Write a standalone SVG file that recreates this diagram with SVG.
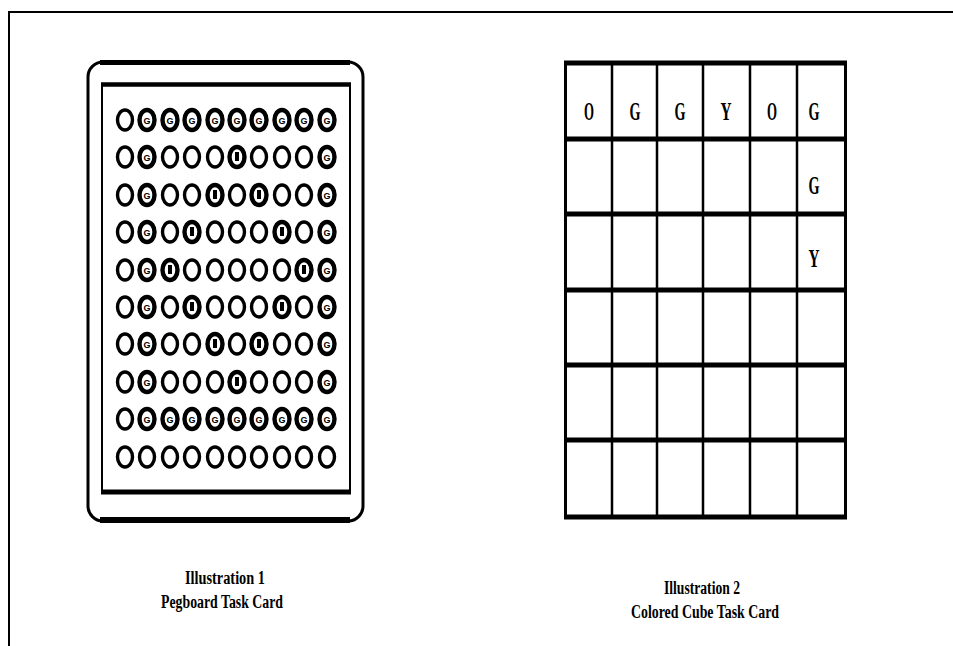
<svg xmlns="http://www.w3.org/2000/svg" xmlns:xlink="http://www.w3.org/1999/xlink" width="953" height="646" viewBox="0 0 953 646">
<style>
.ln{stroke:#000;fill:none}
.po{fill:#fff;stroke:#000;stroke-width:3.4}
.pgr{fill:#fff;stroke:#000;stroke-width:4.4}
.gl{font-family:"Liberation Sans",Arial,sans-serif;font-weight:bold;font-size:9px;fill:#000;text-anchor:middle}
.cl{font-family:"Liberation Serif","Times New Roman",serif;font-weight:bold;font-size:25px;fill:#000;text-anchor:middle}
.cap{font-family:"Liberation Serif","Times New Roman",serif;font-weight:bold;font-size:18px;fill:#000;text-anchor:middle}
</style>
<defs>
<g id="po"><ellipse class="po" cx="0" cy="0" rx="7.5" ry="10"/></g>
<g id="pg"><ellipse class="pgr" cx="0" cy="0" rx="7.5" ry="10"/><text class="gl" x="0" y="3.5">G</text></g>
<g id="pi"><ellipse class="pgr" cx="0" cy="0" rx="7.5" ry="10"/><rect x="-2" y="-5" width="4" height="9" fill="#000"/></g>
</defs>
<rect width="953" height="646" fill="#fff"/>
<path id="border" class="ln" stroke-width="2" d="M9,646 V12 H953"/>

<g id="pegboard-card">
<rect class="ln" x="88" y="62" width="275" height="459" rx="15" stroke-width="3"/>
<line class="ln" x1="100" y1="62.5" x2="350" y2="62.5" stroke-width="5"/>
<line class="ln" x1="100" y1="520" x2="350" y2="520" stroke-width="6"/>
<rect class="ln" x="102" y="84" width="248" height="409" stroke-width="2"/>
<line class="ln" x1="101" y1="84.5" x2="351" y2="84.5" stroke-width="4.5"/>
<line class="ln" x1="101" y1="492" x2="351" y2="492" stroke-width="5"/>
<g id="pegs">
<use xlink:href="#po" x="125" y="120"/><use xlink:href="#pg" x="147" y="120"/><use xlink:href="#pg" x="170" y="120"/><use xlink:href="#pg" x="192" y="120"/><use xlink:href="#pg" x="215" y="120"/><use xlink:href="#pg" x="237" y="120"/><use xlink:href="#pg" x="259" y="120"/><use xlink:href="#pg" x="282" y="120"/><use xlink:href="#pg" x="304" y="120"/><use xlink:href="#pg" x="327" y="120"/>
<use xlink:href="#po" x="125" y="157"/><use xlink:href="#pg" x="147" y="157"/><use xlink:href="#po" x="170" y="157"/><use xlink:href="#po" x="192" y="157"/><use xlink:href="#po" x="215" y="157"/><use xlink:href="#pi" x="237" y="157"/><use xlink:href="#po" x="259" y="157"/><use xlink:href="#po" x="282" y="157"/><use xlink:href="#po" x="304" y="157"/><use xlink:href="#pg" x="327" y="157"/>
<use xlink:href="#po" x="125" y="195"/><use xlink:href="#pg" x="147" y="195"/><use xlink:href="#po" x="170" y="195"/><use xlink:href="#po" x="192" y="195"/><use xlink:href="#pi" x="215" y="195"/><use xlink:href="#po" x="237" y="195"/><use xlink:href="#pi" x="259" y="195"/><use xlink:href="#po" x="282" y="195"/><use xlink:href="#po" x="304" y="195"/><use xlink:href="#pg" x="327" y="195"/>
<use xlink:href="#po" x="125" y="232"/><use xlink:href="#pg" x="147" y="232"/><use xlink:href="#po" x="170" y="232"/><use xlink:href="#pi" x="192" y="232"/><use xlink:href="#po" x="215" y="232"/><use xlink:href="#po" x="237" y="232"/><use xlink:href="#po" x="259" y="232"/><use xlink:href="#pi" x="282" y="232"/><use xlink:href="#po" x="304" y="232"/><use xlink:href="#pg" x="327" y="232"/>
<use xlink:href="#po" x="125" y="270"/><use xlink:href="#pg" x="147" y="270"/><use xlink:href="#pi" x="170" y="270"/><use xlink:href="#po" x="192" y="270"/><use xlink:href="#po" x="215" y="270"/><use xlink:href="#po" x="237" y="270"/><use xlink:href="#po" x="259" y="270"/><use xlink:href="#po" x="282" y="270"/><use xlink:href="#pi" x="304" y="270"/><use xlink:href="#pg" x="327" y="270"/>
<use xlink:href="#po" x="125" y="307"/><use xlink:href="#pg" x="147" y="307"/><use xlink:href="#po" x="170" y="307"/><use xlink:href="#pi" x="192" y="307"/><use xlink:href="#po" x="215" y="307"/><use xlink:href="#po" x="237" y="307"/><use xlink:href="#po" x="259" y="307"/><use xlink:href="#pi" x="282" y="307"/><use xlink:href="#po" x="304" y="307"/><use xlink:href="#pg" x="327" y="307"/>
<use xlink:href="#po" x="125" y="344"/><use xlink:href="#pg" x="147" y="344"/><use xlink:href="#po" x="170" y="344"/><use xlink:href="#po" x="192" y="344"/><use xlink:href="#pi" x="215" y="344"/><use xlink:href="#po" x="237" y="344"/><use xlink:href="#pi" x="259" y="344"/><use xlink:href="#po" x="282" y="344"/><use xlink:href="#po" x="304" y="344"/><use xlink:href="#pg" x="327" y="344"/>
<use xlink:href="#po" x="125" y="382"/><use xlink:href="#pg" x="147" y="382"/><use xlink:href="#po" x="170" y="382"/><use xlink:href="#po" x="192" y="382"/><use xlink:href="#po" x="215" y="382"/><use xlink:href="#pi" x="237" y="382"/><use xlink:href="#po" x="259" y="382"/><use xlink:href="#po" x="282" y="382"/><use xlink:href="#po" x="304" y="382"/><use xlink:href="#pg" x="327" y="382"/>
<use xlink:href="#po" x="125" y="419"/><use xlink:href="#pg" x="147" y="419"/><use xlink:href="#pg" x="170" y="419"/><use xlink:href="#pg" x="192" y="419"/><use xlink:href="#pg" x="215" y="419"/><use xlink:href="#pg" x="237" y="419"/><use xlink:href="#pg" x="259" y="419"/><use xlink:href="#pg" x="282" y="419"/><use xlink:href="#pg" x="304" y="419"/><use xlink:href="#pg" x="327" y="419"/>
<use xlink:href="#po" x="125" y="457"/><use xlink:href="#po" x="147" y="457"/><use xlink:href="#po" x="170" y="457"/><use xlink:href="#po" x="192" y="457"/><use xlink:href="#po" x="215" y="457"/><use xlink:href="#po" x="237" y="457"/><use xlink:href="#po" x="259" y="457"/><use xlink:href="#po" x="282" y="457"/><use xlink:href="#po" x="304" y="457"/><use xlink:href="#po" x="327" y="457"/>
</g>
</g>

<g id="cube-card">
<g class="ln">
<line x1="565.5" y1="61" x2="565.5" y2="519" stroke-width="3"/>
<line x1="845.5" y1="61" x2="845.5" y2="519" stroke-width="3"/>
<line x1="612" y1="63" x2="612" y2="517" stroke-width="2.5"/>
<line x1="657" y1="63" x2="657" y2="517" stroke-width="2.5"/>
<line x1="703" y1="63" x2="703" y2="517" stroke-width="2.5"/>
<line x1="750" y1="63" x2="750" y2="517" stroke-width="2.5"/>
<line x1="797" y1="63" x2="797" y2="517" stroke-width="2.5"/>
<line x1="564" y1="63" x2="847" y2="63" stroke-width="5"/>
<line x1="564" y1="139" x2="847" y2="139" stroke-width="5"/>
<line x1="564" y1="214" x2="847" y2="214" stroke-width="5"/>
<line x1="564" y1="290" x2="847" y2="290" stroke-width="5"/>
<line x1="564" y1="365" x2="847" y2="365" stroke-width="5"/>
<line x1="564" y1="440" x2="847" y2="440" stroke-width="5"/>
<line x1="564" y1="517" x2="847" y2="517" stroke-width="5"/>
</g>
<text class="cl" x="589" y="120" textLength="10" lengthAdjust="spacingAndGlyphs">O</text>
<text class="cl" x="635" y="120" textLength="11" lengthAdjust="spacingAndGlyphs">G</text>
<text class="cl" x="680" y="120" textLength="11" lengthAdjust="spacingAndGlyphs">G</text>
<text class="cl" x="726" y="120" textLength="11" lengthAdjust="spacingAndGlyphs">Y</text>
<text class="cl" x="772" y="120" textLength="10" lengthAdjust="spacingAndGlyphs">O</text>
<text class="cl" x="814" y="120" textLength="11" lengthAdjust="spacingAndGlyphs">G</text>
<text class="cl" x="814" y="194" textLength="11" lengthAdjust="spacingAndGlyphs">G</text>
<text class="cl" x="814" y="267" textLength="11" lengthAdjust="spacingAndGlyphs">Y</text>
</g>

<g id="captions">
<text class="cap" x="225" y="584" textLength="80" lengthAdjust="spacingAndGlyphs">Illustration 1</text>
<text class="cap" x="222" y="608" textLength="122" lengthAdjust="spacingAndGlyphs">Pegboard Task Card</text>
<text class="cap" x="702" y="594" textLength="76" lengthAdjust="spacingAndGlyphs">Illustration 2</text>
<text class="cap" x="705" y="618" textLength="148" lengthAdjust="spacingAndGlyphs">Colored Cube Task Card</text>
</g>
</svg>
